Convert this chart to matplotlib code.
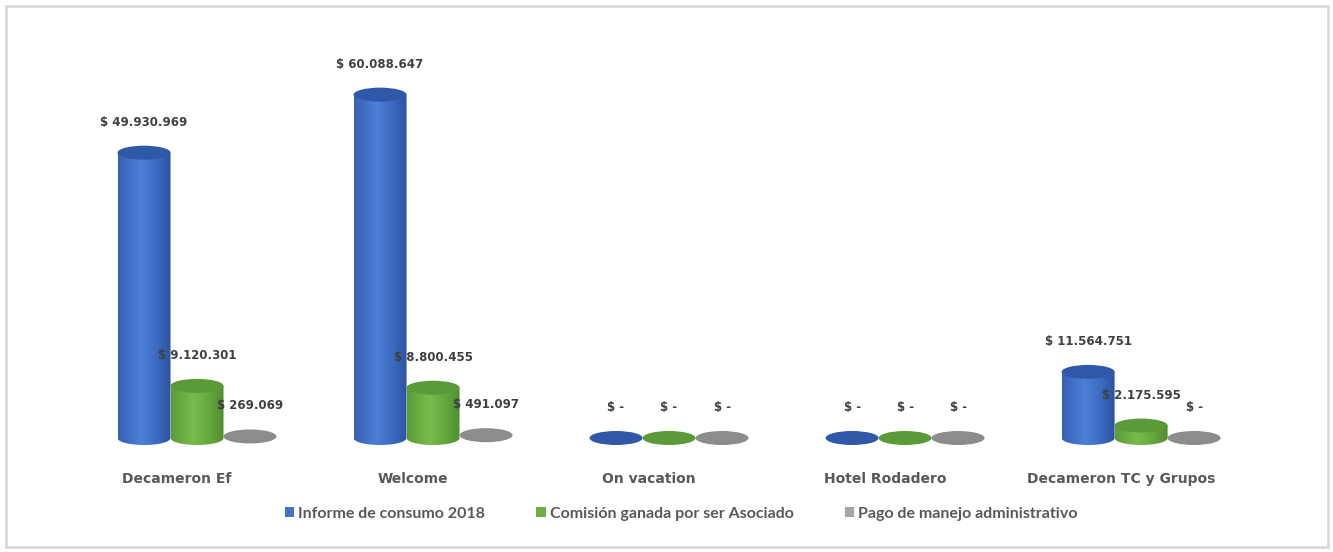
import numpy as np
import matplotlib
matplotlib.use("Agg")
import matplotlib.pyplot as plt
from matplotlib.patches import Ellipse, Polygon, Patch, Rectangle

# Datos
categorias = ["Decameron Ef", "Welcome", "On vacation", "Hotel Rodadero", "Decameron TC y Grupos"]
series = ["Informe de consumo 2018", "Comisión ganada por ser Asociado", "Pago de manejo administrativo"]
consumo = [49930969, 60088647, 0, 0, 11564751]
comision = [9120301, 8800455, 0, 0, 2175595]
manejo = [269069, 491097, 0, 0, 0]

# colores: (borde oscuro, centro claro, tapa, leyenda)
estilos = [
    ("#2a4f9e", "#4b7fd8", "#3058a8", "#4472C4"),
    ("#4c8a2c", "#78bb4c", "#5a9b37", "#70AD47"),
    ("#7f7f7f", "#bdbdbd", "#8c8c8c", "#A5A5A5"),
]

fig = plt.figure(figsize=(13.33, 5.52), dpi=100)
# el eje baja 20 px por debajo de la base para que se vean las elipses
ax = fig.add_axes([20 / 1333, 94 / 552, 1300 / 1333, 420 / 552])

escala = 175000                # valor por pixel
ymax = 400 * escala
ymin = -20 * escala
w = 0.2246                     # ancho de cada cilindro
eh = 14 * escala               # alto de la elipse (14 px)


def gradiente(c_borde, c_centro, n=60):
    t = np.linspace(0, 1, n)
    perfil = np.clip(1 - np.abs(t - 0.42) / 0.58, 0, 1) ** 0.8
    a = np.array(matplotlib.colors.to_rgb(c_borde))
    b = np.array(matplotlib.colors.to_rgb(c_centro))
    img = a[None, :] + (b - a)[None, :] * perfil[:, None]
    return img[None, :, :]


def cilindro(xc, h, estilo, z):
    c_borde, c_centro, c_tapa, _ = estilo
    x0, x1 = xc - w / 2, xc + w / 2
    if h > eh * 0.5:
        im = ax.imshow(gradiente(c_borde, c_centro), extent=(x0, x1, -eh / 2, h),
                       aspect="auto", zorder=z, interpolation="bilinear")
        th = np.linspace(0, np.pi, 40)
        abajo = np.column_stack([xc + w / 2 * np.cos(th), -eh / 2 * np.sin(th)])
        pts = np.vstack([[x0, h], [x1, h], abajo, [x0, h]])
        clip = Polygon(pts, closed=True, transform=ax.transData, facecolor="none", edgecolor="none")
        ax.add_patch(clip)
        im.set_clip_path(clip)
    # tapa superior (o disco si el valor es casi cero)
    ax.add_patch(Ellipse((xc, h), w, eh, facecolor=c_tapa, edgecolor="none", zorder=z + 0.5))


def etiqueta(v):
    if v == 0:
        return "$ -"
    return "$ " + f"{v:,.0f}".replace(",", ".")


x = np.arange(len(categorias))
for k, datos in enumerate([consumo, comision, manejo]):
    for i, v in enumerate(datos):
        xc = x[i] + (k - 1) * w
        cilindro(xc, v, estilos[k], 2 + k)
        ax.annotate(etiqueta(v), (xc, v), xytext=(0, 22), textcoords="offset points",
                    ha="center", va="center", fontsize=8.5, fontweight="bold",
                    color="#404040", zorder=10)

ax.set_xlim(-0.75, 4.758)
ax.set_ylim(ymin, ymax)
ax.set_xticks(x - 0.085)
ax.set_xticklabels(categorias, fontsize=10, fontweight="bold", color="#595959")
ax.tick_params(axis="x", length=0, pad=10)
ax.set_yticks([])
for s in ax.spines.values():
    s.set_visible(False)

manejadores = [Patch(facecolor=e[3], edgecolor="none") for e in estilos]
fig.legend(manejadores, series, loc="center", bbox_to_anchor=(0.511, 0.069), ncol=3,
           frameon=False, handlelength=0.6, handleheight=0.6, handletextpad=0.25,
           columnspacing=3.2, prop={"family": "Lato", "weight": "bold", "size": 11.5},
           labelcolor="#595959")

# marco del grafico
fig.patches.append(Rectangle((6 / 1333, 5 / 552), 1322 / 1333, 541 / 552, transform=fig.transFigure,
                             facecolor="none", edgecolor="#d9d9d9", linewidth=2))

fig.savefig("out.png", dpi=100)
